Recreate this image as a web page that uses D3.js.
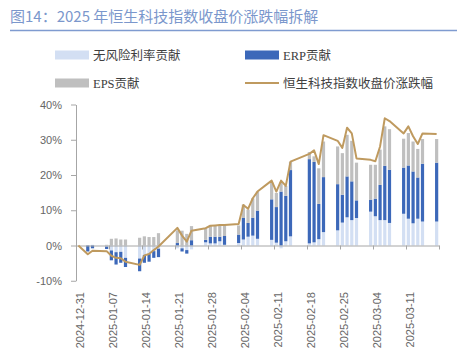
<!DOCTYPE html>
<html><head><meta charset="utf-8">
<script src="https://cdn.jsdelivr.net/npm/d3@7"></script>
<style>html,body{margin:0;padding:0;background:#fff;}svg{display:block;}</style>
</head><body>
<svg id="c" width="457" height="355"></svg>
<script>
const dates = ["2024-12-31","2025-01-02","2025-01-03","2025-01-06","2025-01-07","2025-01-08","2025-01-09","2025-01-10",
"2025-01-13","2025-01-14","2025-01-15","2025-01-16","2025-01-17","2025-01-21","2025-01-22","2025-01-23","2025-01-24",
"2025-01-27","2025-01-28","2025-01-29","2025-01-30","2025-01-31","2025-02-03","2025-02-04","2025-02-05","2025-02-06","2025-02-07",
"2025-02-10","2025-02-11","2025-02-12","2025-02-13","2025-02-14","2025-02-18","2025-02-19","2025-02-20","2025-02-21",
"2025-02-24","2025-02-25","2025-02-26","2025-02-27","2025-02-28","2025-03-03","2025-03-04","2025-03-05","2025-03-06","2025-03-07",
"2025-03-10","2025-03-11","2025-03-12","2025-03-13","2025-03-14","2025-03-17"];
const riskFree = [0,0,0.2,-0.3,-1.4,-1.9,-1.8,-3.5,-3.7,-2.7,-2.4,-1.6,-0.9,-0.8,-0.8,-1.3,-1.1,
0.9,0.6,0.6,1.2,0.2,0.7,1.7,2.5,2.8,1.9,1.6,0.8,-0.8,1.2,2.6,0.6,0.9,1.8,3.8,
4.3,6.5,8.0,7.2,7.8,9.6,8.3,7.2,7.2,6.4,9.0,7.6,6.3,7.6,6.8,6.8];
const erp = [0,-1.7,-0.8,-0.7,-2.8,-3.5,-3.1,-2.6,-3.6,-2.2,-2.2,-1.9,-2.4,0.7,-0.9,-1.0,1.5,
0.7,1.9,1.9,1.3,2.5,2.4,6.1,3.9,5.1,8.0,11.5,10.1,15.3,12.9,18.8,23.9,22.8,10.0,15.6,
13.1,7.9,11.6,11.0,5.0,3.4,5.0,10.0,15.4,15.1,13.1,15.1,14.7,11.7,16.4,16.7];
const eps = [0,0,0,0.2,1.9,2.0,1.7,1.7,2.2,2.6,2.4,2.4,3.5,3.6,4.2,3.3,4.0,
3.3,3.2,3.2,3.2,3.1,2.6,3.8,3.8,5.5,5.4,4.8,4.0,2.6,2.8,2.3,2.0,1.6,10.1,10.1,
10.7,11.8,11.8,11.5,10.7,9.9,9.6,10.0,11.2,11.5,8.2,9.2,8.5,8.1,7.0,6.7];
const indexChange = [0,-2.5,-1.5,-1.6,-2.9,-3.5,-3.6,-4.6,-5.5,-2.8,-2.4,-1.3,-0.3,5.0,2.8,1.1,4.2,
4.9,5.6,5.7,5.8,5.8,6.1,11.5,10.4,13.4,15.3,18.4,15.3,18.4,16.9,23.8,26.0,27.0,23.1,31.3,
29.7,27.7,33.4,31.8,24.7,24.3,23.9,28.1,36.1,35.3,31.8,33.8,31.0,28.8,31.8,31.6];
const seriesNames = ["无风险利率贡献","ERP贡献","EPS贡献","恒生科技指数收盘价涨跌幅"];
const yTicks = [-10,0,10,20,30,40];
const xTickLabels = ["2024-12-31","2025-01-07","2025-01-14","2025-01-21","2025-01-28","2025-02-04",
"2025-02-11","2025-02-18","2025-02-25","2025-03-04","2025-03-11"];
const axisEnd = "2025-03-18";

const colors = {rf:"#d3dff3", erp:"#3c68b9", eps:"#bfbfbf", line:"#bf9a5f"};
const parse = d3.utcParse("%Y-%m-%d");
const svg = d3.select("#c");

// title
svg.append("text").attr("x",10).attr("y",22).attr("fill","#7b97cc")
  .style("font-family","'Noto Sans CJK SC',sans-serif").style("font-size","15px")
  .text("图14：2025 年恒生科技指数收盘价涨跌幅拆解");
svg.append("line").attr("x1",10).attr("x2",457).attr("y1",30.5).attr("y2",30.5)
  .attr("stroke","#7f9bd0").attr("stroke-width",1.5);

// legend
const lf = "'Liberation Serif','Noto Sans CJK SC',serif";
const leg = [
  {x:55,y:55,type:"rect",c:colors.rf,t:seriesNames[0]},
  {x:245,y:55,type:"rect",c:colors.erp,t:seriesNames[1]},
  {x:55,y:83,type:"rect",c:colors.eps,t:seriesNames[2]},
  {x:245,y:83,type:"line",c:colors.line,t:seriesNames[3]}
];
leg.forEach(l=>{
  if(l.type==="rect") svg.append("rect").attr("x",l.x).attr("y",l.y-4.5).attr("width",34).attr("height",9).attr("fill",l.c);
  else svg.append("line").attr("x1",l.x).attr("x2",l.x+34).attr("y1",l.y).attr("y2",l.y).attr("stroke",l.c).attr("stroke-width",2);
  svg.append("text").attr("x",l.x+38).attr("y",l.y).attr("dy","0.36em").attr("fill","#404040")
    .style("font-family",lf).style("font-size","12.5px").text(l.t);
});

// scales
const d0 = parse(dates[0]), dEnd = parse(axisEnd);
const x = d3.scaleUtc().domain([d0, dEnd]).range([76, 439]);
const dayW = x(d3.utcDay.offset(d0,1)) - x(d0);
const y = d3.scaleLinear().domain([-10,40]).range([280.75,104.5]);

const data = dates.map((d,i)=>({date:parse(d), rf:riskFree[i], erp:erp[i], eps:eps[i], idx:indexChange[i]}));
const stack = d3.stack().keys(["rf","erp","eps"]).offset(d3.stackOffsetDiverging)(data);

const bw = 3.2;
const gBars = svg.append("g");
stack.forEach(s=>{
  gBars.selectAll(null).data(s).join("rect")
    .attr("x", d=> x(d.data.date) + dayW/2 - bw/2)
    .attr("width", bw)
    .attr("y", d=> y(Math.max(d[0],d[1])))
    .attr("height", d=> Math.abs(y(d[0])-y(d[1])))
    .attr("fill", colors[s.key]);
});

// axes
const axColor = "#a6a6a6";
const tf = "'Liberation Sans',Arial,sans-serif";
const yAxis = svg.append("g").attr("transform","translate(76,0)")
  .call(d3.axisLeft(y).tickValues(yTicks).tickSize(5).tickSizeOuter(0).tickPadding(9)
    .tickFormat(d=> String(d).replace("−","-") + "%"));
yAxis.selectAll("path,line").attr("stroke",axColor);
yAxis.selectAll("text").attr("fill","#666").style("font-family",tf).style("font-size","11px");

const xTickDates = d3.utcDay.range(d0, d3.utcDay.offset(dEnd,1), 7);
const xAxis = svg.append("g").attr("transform",`translate(0,${y(0)})`)
  .call(d3.axisBottom(x).tickValues(xTickDates).tickSize(4).tickSizeOuter(0).tickFormat(""));
xAxis.selectAll("path,line").attr("stroke",axColor);

svg.append("g").selectAll("text").data(xTickLabels).join("text")
  .attr("transform", d=>`translate(${x(parse(d))+4},292) rotate(-90)`)
  .attr("text-anchor","end").attr("dy","0.35em").attr("fill","#666")
  .style("font-family",tf).style("font-size","11px").text(d=>d);

// line
svg.append("path").datum(data)
  .attr("d", d3.line().x(d=>x(d.date)+dayW/2).y(d=>y(d.idx)))
  .attr("fill","none").attr("stroke",colors.line).attr("stroke-width",2).attr("stroke-linejoin","round");
</script>
</body></html>
